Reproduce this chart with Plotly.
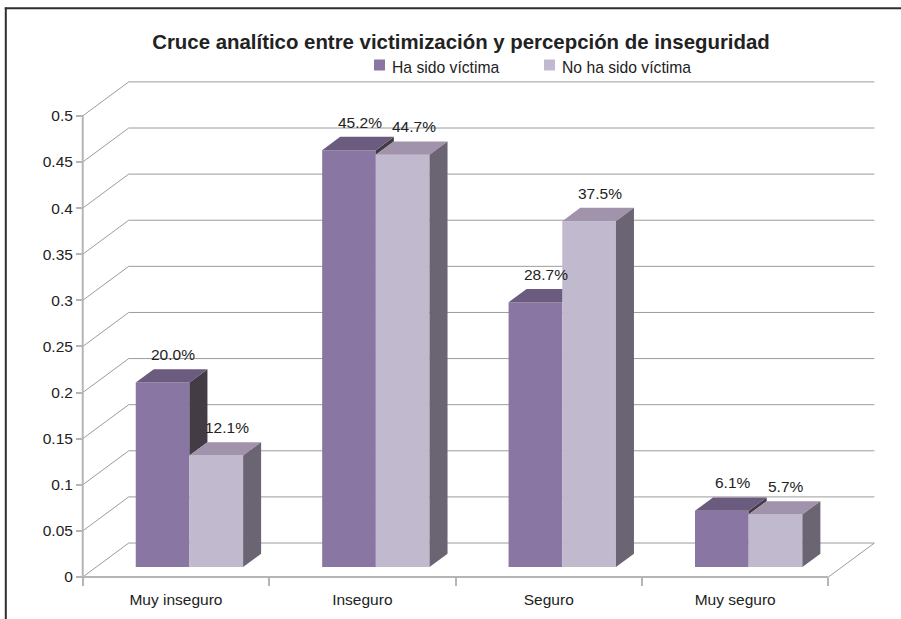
import plotly.graph_objects as go

# ---------------- data ----------------
categories = ["Muy inseguro", "Inseguro", "Seguro", "Muy seguro"]
series_names = ["Ha sido víctima", "No ha sido víctima"]
ha_sido_victima = [0.200, 0.452, 0.287, 0.061]
no_ha_sido_victima = [0.121, 0.447, 0.375, 0.057]
y_tick_values = [0, 0.05, 0.1, 0.15, 0.2, 0.25, 0.3, 0.35, 0.4, 0.45, 0.5]
y_tick_labels = ["0", "0.05", "0.1", "0.15", "0.2", "0.25", "0.3", "0.35", "0.4", "0.45", "0.5"]
title_text = "Cruce analítico entre victimización y percepción de inseguridad"

# ---------------- styling / geometry ----------------
FONT = "Liberation Sans, Arial, sans-serif"
TXT = "#222222"
C_P_FRONT, C_P_TOP, C_P_SIDE = "#8A76A2", "#6B5B7E", "#433C45"
C_L_FRONT, C_L_TOP, C_L_SIDE = "#C1BACE", "#A193AC", "#6B6573"
GRID = "#9C9C9C"
AXIS = "#B5B5B5"
FRAME = "#2E2E2E"

W, H = 901, 619
ML, MR, MT, MB = 79, 26, 79, 37
XR = [-0.52, 3.75]
YR = [-0.0054, 0.54]
pw, ph = W - ML - MR, H - MT - MB
CAT_PX = pw / (XR[1] - XR[0])
UNIT_PX = ph / (YR[1] - YR[0])


def px_x(p):
    return (p - ML) / pw


def px_y(p):
    return (H - MB - p) / ph


BACK_DX, BACK_DY = 46 / CAT_PX, 34 / UNIT_PX      # back wall offset
BAR_DX, BAR_DY = 13.5 / CAT_PX, 10 / UNIT_PX      # bar plane offset
DEP_DX, DEP_DY = 18 / CAT_PX, 13.3 / UNIT_PX      # bar depth
BAR_W = 0.288

xs = list(range(len(categories)))
fig = go.Figure()

# front faces (real bar traces)
fig.add_trace(go.Bar(x=xs, y=ha_sido_victima, base=BAR_DY, offset=BAR_DX - BAR_W, width=BAR_W,
                     marker=dict(color=C_P_FRONT, line=dict(width=0)), name=series_names[0]))
fig.add_trace(go.Bar(x=xs, y=no_ha_sido_victima, base=BAR_DY, offset=BAR_DX, width=BAR_W,
                     marker=dict(color=C_L_FRONT, line=dict(width=0)), name=series_names[1]))

# 3D faces derived from data
p_side_x, p_side_y, p_top_x, p_top_y = [], [], [], []
l_top_x, l_top_y, l_side_x, l_side_y = [], [], [], []
for i, (vp, vl) in enumerate(zip(ha_sido_victima, no_ha_sido_victima)):
    x0p = i + BAR_DX - BAR_W
    x1p = i + BAR_DX
    x1l = x1p + BAR_W
    tp, tl = vp + BAR_DY, vl + BAR_DY
    if vp > vl:
        p_side_x += [x1p, x1p, x1p + DEP_DX, x1p + DEP_DX, x1p, None]
        p_side_y += [tl, tp, tp + DEP_DY, tl + DEP_DY, tl, None]
        p_top_x += [x0p, x1p, x1p + DEP_DX, x0p + DEP_DX, x0p, None]
        p_top_y += [tp, tp, tp + DEP_DY, tp + DEP_DY, tp, None]
    else:
        p_top_x += [x0p, x1p, x1p, x0p + DEP_DX, x0p, None]
        p_top_y += [tp, tp, tp + DEP_DY, tp + DEP_DY, tp, None]
    l_top_x += [x1p, x1l, x1l + DEP_DX, x1p + DEP_DX, x1p, None]
    l_top_y += [tl, tl, tl + DEP_DY, tl + DEP_DY, tl, None]
    l_side_x += [x1l, x1l, x1l + DEP_DX, x1l + DEP_DX, x1l, None]
    l_side_y += [BAR_DY, tl, tl + DEP_DY, BAR_DY + DEP_DY, BAR_DY, None]

for fx, fy, col in [(p_side_x, p_side_y, C_P_SIDE), (p_top_x, p_top_y, C_P_TOP),
                    (l_top_x, l_top_y, C_L_TOP), (l_side_x, l_side_y, C_L_SIDE)]:
    fig.add_trace(go.Scatter(x=fx, y=fy, mode="lines", fill="toself", fillcolor=col,
                             line=dict(width=0, color=col), showlegend=False, hoverinfo="skip"))

# data labels
annotations = []
for vals, off in [(ha_sido_victima, BAR_DX - BAR_W / 2), (no_ha_sido_victima, BAR_DX + BAR_W / 2)]:
    for i, v in enumerate(vals):
        annotations.append(dict(x=i + off + DEP_DX * 0.6, y=v + BAR_DY + DEP_DY, xref="x", yref="y",
                                text=f"{v * 100:.1f}%", showarrow=False, yanchor="bottom", yshift=4,
                                font=dict(family=FONT, size=15.5, color=TXT)))

# back wall grid, floor and axis lines
shapes = []
left, right = -0.5, len(categories) - 0.5
for v in y_tick_values:
    shapes.append(dict(type="line", xref="x", yref="y", x0=left, y0=v, x1=left + BACK_DX, y1=v + BACK_DY,
                       line=dict(color=GRID, width=1), layer="below"))
    shapes.append(dict(type="line", xref="x", yref="y", x0=left + BACK_DX, y0=v + BACK_DY,
                       x1=right + BACK_DX, y1=v + BACK_DY, line=dict(color=GRID, width=1), layer="below"))
shapes.append(dict(type="line", xref="x", yref="y", x0=right, y0=0, x1=right + BACK_DX, y1=BACK_DY,
                   line=dict(color=GRID, width=1), layer="below"))
shapes.append(dict(type="line", xref="x", yref="y", x0=left, y0=0, x1=right, y1=0,
                   line=dict(color=AXIS, width=2), layer="below"))
shapes.append(dict(type="line", xref="x", yref="y", x0=left, y0=0, x1=left, y1=y_tick_values[-1],
                   line=dict(color=AXIS, width=2), layer="below"))

# outer frame (left and top edges visible in the picture)
shapes.append(dict(type="line", xref="paper", yref="paper", x0=px_x(5.8), x1=px_x(5.8),
                   y0=px_y(H + 5), y1=px_y(7.5), line=dict(color=FRAME, width=2), layer="above"))
shapes.append(dict(type="line", xref="paper", yref="paper", x0=px_x(4.8), x1=px_x(W + 5),
                   y0=px_y(8.3), y1=px_y(8.3), line=dict(color=FRAME, width=2), layer="above"))

# manual legend (square swatch + label)
legend_items = [(series_names[0], C_P_FRONT, 374), (series_names[1], C_L_FRONT, 544)]
for name, col, sx in legend_items:
    shapes.append(dict(type="rect", xref="paper", yref="paper", x0=px_x(sx), x1=px_x(sx + 11),
                       y0=px_y(70.5), y1=px_y(59.5), fillcolor=col, line=dict(width=0), layer="above"))
    annotations.append(dict(x=px_x(sx + 15.5), y=px_y(67.3), xref="paper", yref="paper", text=name,
                            showarrow=False, xanchor="left", yanchor="middle",
                            font=dict(family=FONT, size=15.7, color=TXT)))

fig.update_layout(
    width=W, height=H,
    margin=dict(l=ML, r=MR, t=MT, b=MB),
    paper_bgcolor="white", plot_bgcolor="white",
    barmode="overlay",
    font=dict(family=FONT, size=15.5, color=TXT),
    title=dict(text="<b>" + title_text + "</b>", x=461 / W, xref="container", xanchor="center",
               y=1 - 42 / H, yref="container", yanchor="middle",
               font=dict(family=FONT, size=20.4, color=TXT)),
    showlegend=False,
    xaxis=dict(range=XR, tickvals=xs, ticktext=categories, ticks="", showgrid=False, zeroline=False,
               showline=False, anchor="free", position=px_y(577),
               minor=dict(tickmode="linear", tick0=-0.5, dtick=1, ticks="outside", ticklen=8,
                          tickcolor=AXIS, tickwidth=1.5, showgrid=False),
               ticklabelstandoff=11, tickfont=dict(family=FONT, size=15.5, color=TXT)),
    yaxis=dict(range=YR, tickvals=y_tick_values, ticktext=y_tick_labels, ticks="outside", ticklen=7,
               tickcolor=AXIS, tickwidth=1.5, showgrid=False, zeroline=False, showline=False,
               anchor="free", position=px_x(83), tickfont=dict(family=FONT, size=15.5, color=TXT)),
    shapes=shapes,
    annotations=annotations,
)

fig.write_html("out.html", config={"displayModeBar": False},
               post_script="document.body.style.margin='0';document.body.style.overflow='hidden';")
